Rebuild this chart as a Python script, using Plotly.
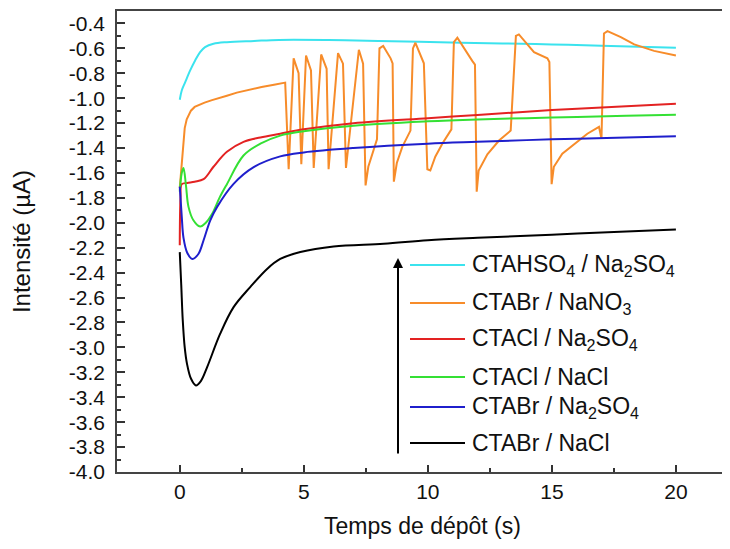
import plotly.graph_objects as go

# time (s) / current (uA)
t_hso4 = [0, 0.08, 0.22, 0.42, 0.62, 0.82, 1.02, 1.36, 1.9, 3, 4, 6, 8, 10.5, 13, 15, 17, 20]
i_hso4 = [-1.012, -0.938, -0.871, -0.777, -0.697, -0.63, -0.59, -0.563, -0.55, -0.54, -0.532,
          -0.533, -0.54, -0.551, -0.56, -0.568, -0.578, -0.595]

t_no3 = [0, 0.04, 0.08, 0.13, 0.2, 0.28, 0.36, 0.45, 0.6, 0.8, 1.0, 1.3, 1.6, 1.9, 2.3, 2.8, 3.3,
         3.8, 4.25,
         4.39, 4.59, 4.79, 4.90, 5.09, 5.29, 5.40, 5.70, 5.92, 6.0, 6.38, 6.58, 6.70,
         7.22, 7.39, 7.49, 7.6, 7.8, 7.95, 8.05, 8.2, 8.5, 8.58, 8.63, 8.75, 8.97, 9.2, 9.3,
         9.4, 9.5, 9.84, 9.98, 10.1, 10.3, 10.6, 10.95, 11.05, 11.19, 11.79, 11.9, 11.97,
         12.05, 12.4, 12.87, 13.34, 13.55, 13.67, 14.28, 14.82, 14.9, 14.99, 15.08, 15.42,
         15.9, 16.43, 16.9, 17.0, 17.1, 17.24, 17.78, 18.32, 19.12, 20.0]
i_no3 = [-1.72, -1.62, -1.5, -1.36, -1.24, -1.17, -1.13, -1.1, -1.07, -1.05, -1.035, -1.015, -0.995,
         -0.98, -0.955, -0.93, -0.91, -0.892, -0.875,
         -1.57, -0.68, -0.80, -1.53, -0.657, -0.777, -1.56, -0.649, -0.764, -1.57, -0.638, -0.723, -1.56,
         -0.611, -0.723, -1.70, -1.55, -1.42, -1.33, -0.6, -0.58, -0.68, -0.72, -1.67, -1.52, -1.39, -1.3, -1.26,
         -0.6, -0.555, -0.72, -1.57, -1.58, -1.47, -1.36, -1.25, -0.55, -0.515, -0.70, -0.73, -1.75,
         -1.58, -1.45, -1.34, -1.26, -0.5, -0.488, -0.63, -0.68, -0.71, -1.69, -1.55, -1.445,
         -1.37, -1.285, -1.23, -1.325, -0.48, -0.462, -0.51, -0.568, -0.62, -0.657]

t_cl_so4 = [0, 0.03, 0.08, 0.3, 0.6, 0.96, 1.36, 1.9, 2.57, 3.25, 4.05, 5, 7, 10, 12, 15, 18, 20]
i_cl_so4 = [-2.18, -1.8, -1.69, -1.68, -1.67, -1.65, -1.55, -1.43, -1.35, -1.315, -1.285, -1.25,
            -1.2, -1.16, -1.135, -1.095, -1.065, -1.045]

t_cl_cl = [0, 0.08, 0.15, 0.25, 0.35, 0.55, 0.82, 1.05, 1.3, 1.6, 1.9, 2.57, 3.25, 4.05, 5, 7, 10,
           12, 15, 18, 20]
i_cl_cl = [-1.75, -1.6, -1.56, -1.7, -1.87, -1.98, -2.03, -2.0, -1.93, -1.8, -1.69, -1.46, -1.365,
           -1.30, -1.265, -1.22, -1.185, -1.17, -1.155, -1.14, -1.133]

t_br_so4 = [0, 0.08, 0.15, 0.3, 0.51, 0.75, 0.96, 1.23, 1.5, 2.17, 2.98, 4.05, 5, 7, 10, 12, 15, 18, 20]
i_br_so4 = [-1.71, -1.95, -2.12, -2.24, -2.29, -2.25, -2.14, -1.98, -1.874, -1.687, -1.553, -1.467,
            -1.435, -1.40, -1.365, -1.35, -1.33, -1.315, -1.305]

t_br_cl = [0, 0.06, 0.12, 0.2, 0.29, 0.45, 0.65, 0.85, 1.1, 1.63, 2.17, 2.84, 3.52, 4.05, 4.86, 6.2,
           8.22, 10, 12, 15, 18, 20]
i_br_cl = [-2.235, -2.5, -2.78, -3.0, -3.13, -3.25, -3.305, -3.27, -3.16, -2.89, -2.677, -2.516, -2.37,
           -2.29, -2.235, -2.19, -2.168, -2.14, -2.12, -2.095, -2.07, -2.053]

labels = ['CTAHSO<sub>4</sub> / Na<sub>2</sub>SO<sub>4</sub>',
          'CTABr / NaNO<sub>3</sub>',
          'CTACl / Na<sub>2</sub>SO<sub>4</sub>',
          'CTACl / NaCl',
          'CTABr / Na<sub>2</sub>SO<sub>4</sub>',
          'CTABr / NaCl']
colors = ['#3BE3EE', '#F78C2A', '#E32222', '#34E034', '#1F1FCC', '#000000']

y_ticks = [-0.4 - 0.2 * k for k in range(19)]
y_ticktext = ['%.1f' % v for v in y_ticks]
x_ticks = [0, 5, 10, 15, 20]

# the page puts the figure 8px in from the top-left corner
OFF = 8
W, H = 722, 541
L, R, T, B = 109, 2, 3, 77
FONT = 'Liberation Sans, Arial, sans-serif'


def px(x):
    return (x - OFF - L) / (W - L - R)


def py_(y):
    return (H - B - (y - OFF)) / (H - T - B)


series = [(t_hso4, i_hso4, 'spline'), (t_no3, i_no3, 'linear'), (t_cl_so4, i_cl_so4, 'spline'),
          (t_cl_cl, i_cl_cl, 'spline'), (t_br_so4, i_br_so4, 'spline'), (t_br_cl, i_br_cl, 'spline')]

fig = go.Figure()
for (t, i, shape), name, c in zip(series, labels, colors):
    fig.add_trace(go.Scatter(x=t, y=i, mode='lines', name=name,
                             line=dict(color=c, width=2, shape=shape, smoothing=1.0)))

# hand-made legend, as in the original figure
rows = [265, 303, 339, 377, 407, 443]
shapes = []
annotations = []
for yrow, name, c in zip(rows, labels, colors):
    shapes.append(dict(type='line', xref='paper', yref='paper', x0=px(410), x1=px(465),
                       y0=py_(yrow), y1=py_(yrow), line=dict(color=c, width=2)))
    annotations.append(dict(xref='paper', yref='paper', x=px(470), y=py_(yrow), text=name,
                            showarrow=False, xanchor='left', yanchor='middle',
                            font=dict(family=FONT, size=23, color='#111')))
annotations.append(dict(xref='paper', yref='paper', x=px(398), y=py_(258), ax=0, ay=197,
                        axref='pixel', ayref='pixel', text='', showarrow=True, arrowhead=2,
                        arrowsize=1, arrowwidth=2, arrowcolor='black'))

fig.update_layout(
    width=W, height=H,
    margin=dict(l=L, r=R, t=T, b=B),
    paper_bgcolor='white', plot_bgcolor='white',
    showlegend=False,
    font=dict(family=FONT, size=21, color='#111'),
    shapes=shapes, annotations=annotations,
    xaxis=dict(range=[-2.53, 22.1], tickvals=x_ticks, ticks='inside', ticklen=7, tickwidth=1.5,
               tickcolor='#333', minor=dict(dtick=2.5, ticks='inside', ticklen=4, tickcolor='#333'),
               showline=True, linecolor='#444', linewidth=1.5, mirror=True, showgrid=False,
               zeroline=False, automargin=False,
               title=dict(text='Temps de dépôt (s)', font=dict(size=23), standoff=16)),
    yaxis=dict(range=[-4.0, -0.3], tickvals=y_ticks, ticktext=y_ticktext, ticks='inside',
               ticklen=8, tickwidth=1.5, tickcolor='#333',
               minor=dict(dtick=0.1, tick0=-0.3, ticks='inside', ticklen=4, tickcolor='#333'),
               showline=True, linecolor='#444', linewidth=1.5, mirror=True, showgrid=False,
               zeroline=False, automargin=False, ticklabelstandoff=6,
               title=dict(text='Intensité (µA)', font=dict(size=24), standoff=33)),
)

fig.write_html('out.html')
